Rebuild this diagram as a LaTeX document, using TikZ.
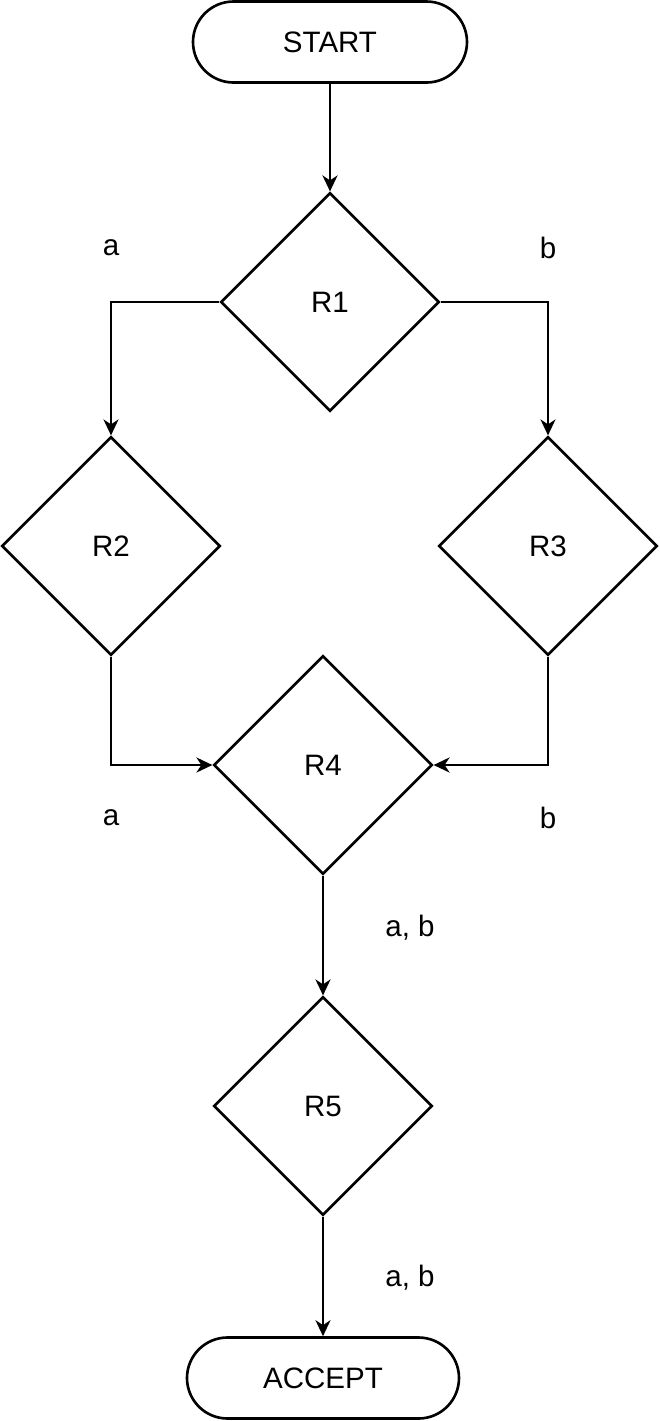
\documentclass[tikz,border=0pt]{standalone}
\usepackage{fontspec}
\setmainfont{Liberation Sans}
\usetikzlibrary{arrows.meta,shapes.geometric}

\begin{document}
\begin{tikzpicture}[>=Latex,
  term/.style={draw,line width=1.5pt,rounded corners=0.81cm,minimum width=5.44cm,
    minimum height=1.62cm,font=\fontsize{16.8}{20}\selectfont},
  test/.style={diamond,draw,line width=1.5pt,minimum width=4.37cm,minimum height=4.37cm,
    inner sep=0pt,font=\fontsize{16.8}{20}\selectfont},
  lbl/.style={font=\fontsize{16.8}{20}\selectfont},
  la/.style={-{Stealth[length=3.2mm,width=3mm,inset=1mm]},line width=1.5pt}]
\useasboundingbox (0,0) rectangle (13.2,-28.42);
\node[term,minimum width=5.48cm] (start) at (6.6,-0.84) {START};
\node[test] (r1) at (6.6,-6.04) {R1};
\node[test] (r2) at (2.22,-10.92) {R2};
\node[test] (r3) at (10.96,-10.92) {R3};
\node[test] (r4) at (6.46,-15.3) {R4};
\node[test] (r5) at (6.46,-22.12) {R5};
\node[term] (accept) at (6.46,-27.56) {ACCEPT};
% edge labels
\node[lbl] (la1) at (2.22,-4.96) {a};
\node[lbl] (lb1) at (10.96,-4.96) {b};
\node[lbl] (la2) at (2.22,-16.36) {a};
\node[lbl] (lb2) at (10.96,-16.36) {b};
\node[lbl] (lab1) at (8.2,-18.56) {a, b};
\node[lbl] (lab2) at (8.2,-25.56) {a, b};
\draw[la] (start)--(r1);
\draw[la] (r1.west) -| (r2.north); \draw[la] (r1.east) -| (r3.north);
\draw[la] (r2.south) |- (r4.west); \draw[la] (r3.south) |- (r4.east);
\draw[la] (r4)--(r5); \draw[la] (r5)--(accept);
\end{tikzpicture}
\end{document}
